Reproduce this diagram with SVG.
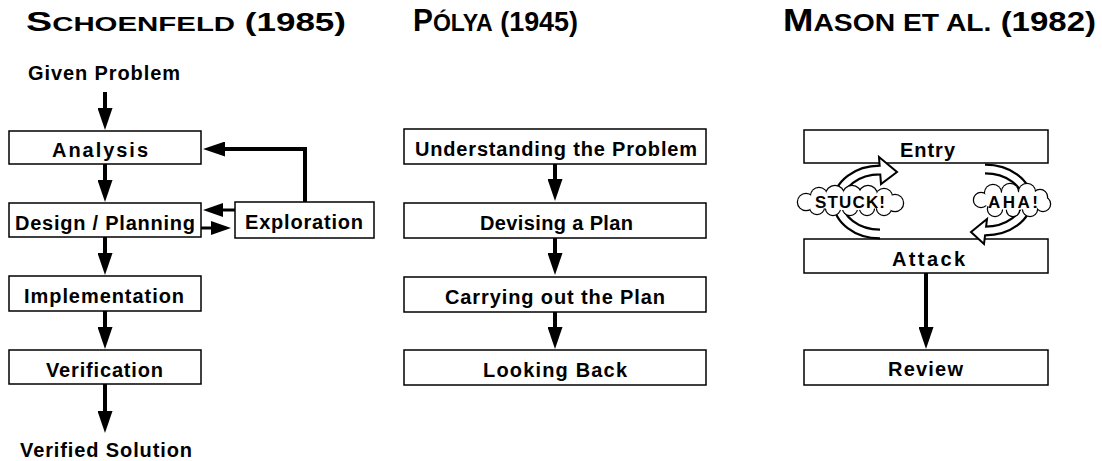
<svg xmlns="http://www.w3.org/2000/svg" width="1102" height="461" viewBox="0 0 1102 461">
<style>
.box{fill:#fff;stroke:#000;stroke-width:1.5}
.t{font-family:"Liberation Sans",Arial,sans-serif;font-weight:bold;font-size:20px;fill:#000}
.ttl{font-family:"Liberation Sans",Arial,sans-serif;font-weight:bold;fill:#000}
.c{stroke:#000;stroke-width:4;fill:none}
.c3{stroke:#000;stroke-width:3;fill:none}
.bandO{stroke:#000;stroke-width:11;fill:none}
.bandI{stroke:#fff;stroke-width:6.5;fill:none}
.head{fill:#fff;stroke:#000;stroke-width:2;stroke-linejoin:miter}
.cl{fill:#fff;stroke:#000;stroke-width:2.5}
.clf{fill:#fff;stroke:none}
.ct{font-family:"Liberation Sans",Arial,sans-serif;font-weight:bold;font-size:17px;fill:#000}
</style>
<defs>
<marker id="ah" markerUnits="userSpaceOnUse" viewBox="0 0 22 15" markerWidth="22" markerHeight="15" refX="2" refY="7.5" orient="auto">
<path d="M0,0 L22,7.5 L0,15 z" fill="#000"/>
</marker>
<marker id="ahs" markerUnits="userSpaceOnUse" viewBox="0 0 20 14" markerWidth="20" markerHeight="14" refX="2" refY="7" orient="auto">
<path d="M0,0 L20,7 L0,14 z" fill="#000"/>
</marker>
</defs>
<rect width="1102" height="461" fill="#fff"/>

<g id="titles">
<text class="ttl" x="26" y="31" textLength="320" lengthAdjust="spacingAndGlyphs"><tspan font-size="28">S</tspan><tspan font-size="21">CHOENFELD</tspan><tspan font-size="25"> (1985)</tspan></text>
<text class="ttl" x="413" y="31" textLength="165" lengthAdjust="spacingAndGlyphs"><tspan font-size="31">P</tspan><tspan font-size="24">ÓLYA</tspan><tspan font-size="28"> (1945)</tspan></text>
<text class="ttl" x="783" y="31" textLength="313" lengthAdjust="spacingAndGlyphs"><tspan font-size="31">M</tspan><tspan font-size="24">ASON ET AL.</tspan><tspan font-size="28"> (1982)</tspan></text>
</g>

<g id="given-problem"><text class="t" x="28" y="80" textLength="152" lengthAdjust="spacing">Given Problem</text></g>
<g id="analysis"><rect class="box" x="9" y="131" width="192" height="33"/><text class="t" x="52" y="157" textLength="96" lengthAdjust="spacing">Analysis</text></g>
<g id="design"><rect class="box" x="9" y="203" width="192" height="34"/><text class="t" x="15" y="230" textLength="180" lengthAdjust="spacing">Design / Planning</text></g>
<g id="exploration"><rect class="box" x="235" y="202" width="139" height="36"/><text class="t" x="245" y="229" textLength="118" lengthAdjust="spacing">Exploration</text></g>
<g id="implementation"><rect class="box" x="9" y="276" width="192" height="35"/><text class="t" x="24" y="303" textLength="160" lengthAdjust="spacing">Implementation</text></g>
<g id="verification"><rect class="box" x="9" y="350" width="192" height="34"/><text class="t" x="46" y="377" textLength="117" lengthAdjust="spacing">Verification</text></g>
<g id="verified-solution"><text class="t" x="20" y="457" textLength="172" lengthAdjust="spacing">Verified Solution</text></g>

<g id="understanding"><rect class="box" x="404" y="129" width="302" height="35"/><text class="t" x="415" y="156" textLength="282" lengthAdjust="spacing">Understanding the Problem</text></g>
<g id="devising"><rect class="box" x="404" y="203" width="302" height="35"/><text class="t" x="480" y="230" textLength="153" lengthAdjust="spacing">Devising a Plan</text></g>
<g id="carrying"><rect class="box" x="404" y="277" width="302" height="35"/><text class="t" x="445" y="304" textLength="220" lengthAdjust="spacing">Carrying out the Plan</text></g>
<g id="looking-back"><rect class="box" x="404" y="350" width="302" height="35"/><text class="t" x="483" y="377" textLength="144" lengthAdjust="spacing">Looking Back</text></g>

<g id="entry"><rect class="box" x="804" y="130" width="244" height="33"/><text class="t" x="900" y="157" textLength="55" lengthAdjust="spacing">Entry</text></g>
<g id="attack"><rect class="box" x="804" y="239" width="244" height="34"/><text class="t" x="892" y="266" textLength="73" lengthAdjust="spacing">Attack</text></g>
<g id="review"><rect class="box" x="804" y="350" width="244" height="35"/><text class="t" x="888" y="376" textLength="75" lengthAdjust="spacing">Review</text></g>

<g id="connectors">
<line class="c" x1="105" y1="92" x2="105" y2="110" marker-end="url(#ah)"/>
<line class="c" x1="105" y1="164" x2="105" y2="182" marker-end="url(#ah)"/>
<line class="c" x1="105" y1="237" x2="105" y2="255" marker-end="url(#ah)"/>
<line class="c" x1="105" y1="311" x2="105" y2="329" marker-end="url(#ah)"/>
<line class="c" x1="105" y1="384" x2="105" y2="413" marker-end="url(#ah)"/>
<path class="c" d="M305,202 V149 H223" marker-end="url(#ah)"/>
<path class="c3" d="M235,210 H221" marker-end="url(#ahs)"/>
<path class="c3" d="M201,228 H213" marker-end="url(#ahs)"/>
<line class="c" x1="555" y1="164" x2="555" y2="181" marker-end="url(#ah)"/>
<line class="c" x1="555" y1="238" x2="555" y2="255" marker-end="url(#ah)"/>
<line class="c" x1="555" y1="312" x2="555" y2="329" marker-end="url(#ah)"/>
<line class="c" x1="926" y1="273" x2="926" y2="329" marker-end="url(#ah)"/>
<path class="bandO" d="M880,234 A42,32 0 0 1 838,202 A42,32 0 0 1 880,170"/>
<polygon class="head" points="879,157 897,172 881,184"/>
<path class="bandI" d="M882,234 L880,234 A42,32 0 0 1 838,202 A42,32 0 0 1 880,170 L884,170.5"/>
<path class="bandO" d="M985,169 A42,31 0 0 1 1027,200 A42,31 0 0 1 985,231"/>
<polygon class="head" points="987,219 971,232 984,244"/>
<path class="bandI" d="M983,169 L985,169 A42,31 0 0 1 1027,200 A42,31 0 0 1 985,231 L981,231.5"/>
</g>

<g id="stuck">
<g class="cl">
<circle cx="806" cy="202" r="8"/><circle cx="819" cy="196" r="8"/><circle cx="835" cy="195" r="9"/><circle cx="852" cy="195" r="9"/><circle cx="868" cy="195" r="9"/><circle cx="884" cy="197" r="8"/><circle cx="895" cy="203" r="8"/><circle cx="884" cy="208" r="7"/><circle cx="867" cy="208" r="7"/><circle cx="850" cy="208" r="7"/><circle cx="833" cy="208" r="7"/><circle cx="817" cy="207" r="7"/>
</g>
<g class="clf">
<circle cx="806" cy="202" r="8"/><circle cx="819" cy="196" r="8"/><circle cx="835" cy="195" r="9"/><circle cx="852" cy="195" r="9"/><circle cx="868" cy="195" r="9"/><circle cx="884" cy="197" r="8"/><circle cx="895" cy="203" r="8"/><circle cx="884" cy="208" r="7"/><circle cx="867" cy="208" r="7"/><circle cx="850" cy="208" r="7"/><circle cx="833" cy="208" r="7"/><circle cx="817" cy="207" r="7"/>
<ellipse cx="850" cy="202" rx="42" ry="8"/>
</g>
<text class="ct" x="815" y="208" textLength="70" lengthAdjust="spacing">STUCK!</text>
</g>

<g id="aha">
<g class="cl">
<circle cx="981" cy="200" r="7"/><circle cx="993" cy="193" r="8"/><circle cx="1010" cy="192" r="8"/><circle cx="1027" cy="192" r="8"/><circle cx="1040" cy="197" r="7"/><circle cx="1043" cy="204" r="7"/><circle cx="1030" cy="209" r="7"/><circle cx="1013" cy="210" r="6"/><circle cx="995" cy="209" r="7"/>
</g>
<g class="clf">
<circle cx="981" cy="200" r="7"/><circle cx="993" cy="193" r="8"/><circle cx="1010" cy="192" r="8"/><circle cx="1027" cy="192" r="8"/><circle cx="1040" cy="197" r="7"/><circle cx="1043" cy="204" r="7"/><circle cx="1030" cy="209" r="7"/><circle cx="1013" cy="210" r="6"/><circle cx="995" cy="209" r="7"/>
<ellipse cx="1012" cy="201" rx="30" ry="9"/>
</g>
<text class="ct" x="988" y="208" textLength="50" lengthAdjust="spacing">AHA!</text>
</g>
</svg>
